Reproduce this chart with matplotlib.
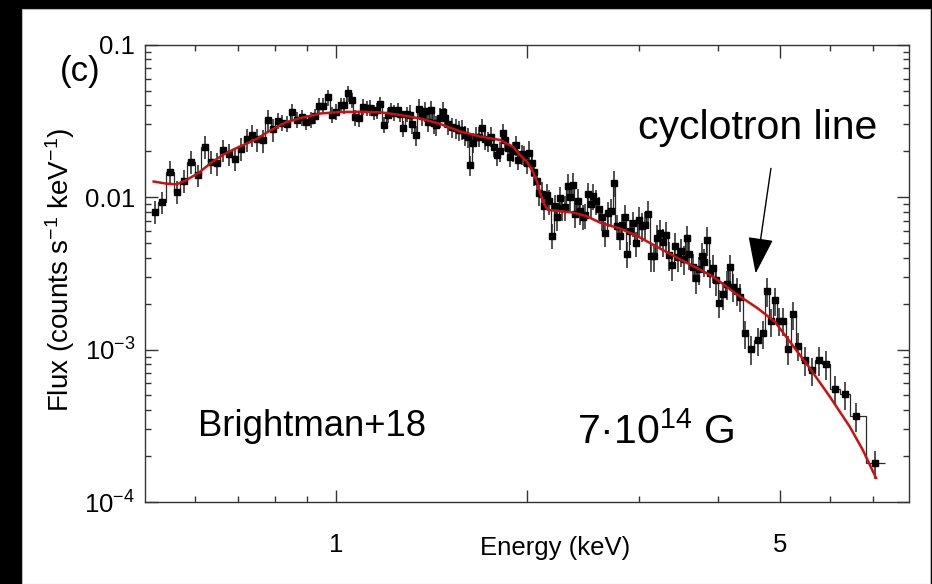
import matplotlib
matplotlib.use('Agg')
import numpy as np
import matplotlib.pyplot as plt
from matplotlib.patches import Rectangle
from matplotlib.ticker import FixedLocator, FixedFormatter, NullFormatter

plt.rcParams['font.family'] = ['Liberation Sans', 'DejaVu Sans']
plt.rcParams['mathtext.default'] = 'regular'

# spectrum bins (keV) and flux (counts s^-1 keV^-1)
energy = [0.518, 0.532, 0.547, 0.562, 0.575, 0.591, 0.606, 0.621, 0.635, 0.650,
          0.663, 0.679, 0.694, 0.708, 0.723, 0.737, 0.751, 0.767, 0.781, 0.796,
          0.809, 0.823, 0.837, 0.853, 0.868, 0.884, 0.898, 0.912, 0.926, 0.940,
          0.954, 0.970, 0.984, 1.000, 1.016, 1.029, 1.043, 1.058, 1.072, 1.088,
          1.101, 1.117, 1.132, 1.148, 1.160, 1.174, 1.188, 1.206, 1.221, 1.235,
          1.250, 1.262, 1.276, 1.292, 1.306, 1.318, 1.334, 1.351, 1.366, 1.380,
          1.395, 1.410, 1.424, 1.439, 1.457, 1.471, 1.486, 1.502, 1.522, 1.542,
          1.559, 1.576, 1.595, 1.612, 1.627, 1.644, 1.662, 1.681, 1.700, 1.717,
          1.736, 1.755, 1.773, 1.792, 1.809, 1.830, 1.844, 1.863, 1.882, 1.901,
          1.918, 1.935, 1.960, 1.978, 1.997, 2.016, 2.034, 2.052, 2.069, 2.088,
          2.107, 2.126, 2.146, 2.165, 2.189, 2.213, 2.231, 2.253, 2.272, 2.294,
          2.315, 2.336, 2.358, 2.379, 2.401, 2.421, 2.444, 2.469, 2.494, 2.521,
          2.542, 2.567, 2.590, 2.621, 2.652, 2.681, 2.710, 2.740, 2.767, 2.795,
          2.821, 2.846, 2.872, 2.903, 2.930, 2.962, 3.000, 3.029, 3.060, 3.100,
          3.133, 3.168, 3.199, 3.231, 3.270, 3.306, 3.348, 3.381, 3.418, 3.456,
          3.496, 3.534, 3.565, 3.600, 3.642, 3.682, 3.722, 3.763, 3.797, 3.842,
          3.884, 3.927, 3.966, 4.009, 4.072, 4.122, 4.172, 4.222, 4.274, 4.334,
          4.405, 4.502, 4.612, 4.707, 4.774, 4.849, 4.916, 4.992, 5.061, 5.148,
          5.247, 5.343, 5.469, 5.609, 5.753, 5.908, 6.104, 6.328, 6.586, 7.063]

flux = [0.00804, 0.00929, 0.01468, 0.01085, 0.01285, 0.01707, 0.01396, 0.02141, 0.01707, 0.01667,
        0.02037, 0.01918, 0.01784, 0.02075, 0.02395, 0.02556, 0.02395, 0.02359, 0.03206, 0.02785,
        0.03182, 0.03087, 0.03041, 0.03645, 0.03230, 0.03339, 0.03110, 0.03230, 0.03405, 0.03962,
        0.03962, 0.04518, 0.03483, 0.03634, 0.04021, 0.04003, 0.04798, 0.04336, 0.03339, 0.03289,
        0.03902, 0.03843, 0.03855, 0.03617, 0.03712, 0.04070, 0.02995, 0.03457, 0.03712, 0.03590,
        0.03728, 0.03510, 0.02827, 0.03510, 0.03483, 0.03032, 0.02556, 0.03803, 0.03431, 0.03673,
        0.03124, 0.03712, 0.03064, 0.02972, 0.03329, 0.03634, 0.03329, 0.03008, 0.02893, 0.02827,
        0.02756, 0.02777, 0.02556, 0.02480, 0.01624, 0.02282, 0.02491, 0.02491, 0.02827, 0.02405,
        0.02309, 0.02491, 0.02141, 0.01889, 0.01998, 0.02622, 0.02370, 0.02090, 0.01841, 0.02007,
        0.02197, 0.01765, 0.01918, 0.01889, 0.01674, 0.01962, 0.01667, 0.01468, 0.01275, 0.01072,
        0.01056, 0.00874, 0.01032, 0.00943, 0.00560, 0.00874, 0.00740, 0.00982, 0.00855, 0.00861,
        0.01192, 0.01006, 0.01201, 0.00775, 0.00950, 0.00810, 0.00746, 0.00763, 0.01045, 0.00901,
        0.01020, 0.00943, 0.00838, 0.00740, 0.00579, 0.00786, 0.00813, 0.01243, 0.00646, 0.00556,
        0.00656, 0.00744, 0.00425, 0.00599, 0.00676, 0.00497, 0.00708, 0.00646, 0.00656, 0.00778,
        0.00409, 0.00408, 0.00539, 0.00586, 0.00510, 0.00564, 0.00417, 0.00358, 0.00481, 0.00406,
        0.00441, 0.00393, 0.00537, 0.00423, 0.00349, 0.00295, 0.00337, 0.00411, 0.00378, 0.00523,
        0.00320, 0.00345, 0.00286, 0.00203, 0.00231, 0.00269, 0.00346, 0.00258, 0.00244, 0.00222,
        0.00128, 0.00101, 0.00115, 0.00128, 0.00242, 0.00153, 0.00211, 0.00155, 0.00155, 0.00101,
        0.00170, 0.00106, 0.000853, 0.00073, 0.000853, 0.000804, 0.000553, 0.00051, 0.000367, 0.000179]

# relative error of the points, per energy band
err_band_edges = [0.5, 0.8, 1.3, 2.0, 3.0, 8.0]
err_band_rel = [0.17, 0.12, 0.15, 0.19, 0.21]

# fitted model (red curve)
model_energy = [0.516, 0.539, 0.561, 0.579, 0.607, 0.636, 0.663, 0.689, 0.720, 0.749,
                0.780, 0.806, 0.832, 0.879, 0.945, 1.016, 1.092, 1.174, 1.262, 1.357,
                1.459, 1.569, 1.687, 1.814, 1.901, 1.949, 1.999, 2.043, 2.073, 2.096,
                2.126, 2.157, 2.253, 2.362, 2.476, 2.604, 2.800, 2.979, 3.122, 3.456,
                3.908, 4.294, 4.617, 4.911, 5.185, 5.575, 5.994, 6.444, 6.755, 7.084]
model_flux = [0.01266, 0.01228, 0.01213, 0.01285, 0.01439, 0.01687, 0.01889, 0.02053, 0.02231, 0.02405,
              0.02674, 0.02884, 0.03087, 0.03304, 0.03538, 0.03617, 0.03634, 0.03601, 0.03457, 0.03280,
              0.03018, 0.02694, 0.02499, 0.02370, 0.02132, 0.01889, 0.01699, 0.01461, 0.01256, 0.01064,
              0.00901, 0.00823, 0.00810, 0.00792, 0.00752, 0.00681, 0.00622, 0.00556, 0.00500, 0.00397,
              0.00304, 0.00228, 0.00186, 0.00152, 0.001125, 0.000753, 0.00049, 0.000311, 0.000219, 0.000144]

xtick_major = [1, 2, 5]
xtick_labels = ['1', '', '5']
xtick_minor = [0.6, 0.7, 0.8, 0.9, 3, 4, 6, 7]
ytick_major = [1e-4, 1e-3, 1e-2, 1e-1]
ytick_labels = ['$10^{-4}$', '$10^{-3}$', '0.01', '0.1']

E = np.array(energy)
F = np.array(flux)
mids = np.sqrt(E[:-1] * E[1:])
edges = np.concatenate([[E[0] ** 2 / mids[0]], mids, [E[-1] ** 2 / mids[-1]]])
rel = np.array(err_band_rel)[np.clip(np.digitize(E, err_band_edges) - 1, 0, len(err_band_rel) - 1)]

fig = plt.figure(figsize=(9.32, 5.84), dpi=100)
fig.patch.set_facecolor('black')
fig.add_artist(Rectangle((22 / 932, 0), (930 - 22) / 932, (584 - 9) / 584,
                         transform=fig.transFigure, facecolor='white', edgecolor='#bbbbbb',
                         lw=0.8, zorder=-5))

ax = fig.add_axes([145 / 932, 1 - 502 / 584, 764.5 / 932, 457.3 / 584])
ax.set_facecolor('white')

ax.stairs(F, edges, baseline=None, color='#2a2a2a', lw=0.9, zorder=2)
ax.errorbar(E, F, yerr=F * rel, fmt='s', ms=4.2, color='black', ecolor='#222222',
            elinewidth=1.1, capsize=0, zorder=3)
ax.plot(model_energy, model_flux, color='#cc1010', lw=1.8, zorder=4)

ax.set_xscale('log')
ax.set_yscale('log')
ax.set_xlim(0.5, 8)
ax.set_ylim(1e-4, 0.1)

ax.xaxis.set_major_locator(FixedLocator(xtick_major))
ax.xaxis.set_major_formatter(FixedFormatter(xtick_labels))
ax.xaxis.set_minor_locator(FixedLocator(xtick_minor))
ax.xaxis.set_minor_formatter(NullFormatter())
ax.yaxis.set_major_locator(FixedLocator(ytick_major))
ax.yaxis.set_major_formatter(FixedFormatter(ytick_labels))
ax.yaxis.set_minor_locator(FixedLocator([k * 10.0 ** d for d in (-4, -3, -2) for k in range(2, 10)]))
ax.yaxis.set_minor_formatter(NullFormatter())

ax.tick_params(which='both', direction='in', top=True, right=True, color='#333333', width=1)
ax.tick_params(which='major', length=9, labelsize=18.5)
ax.tick_params(which='minor', length=4.5)
ax.tick_params(axis='x', which='major', pad=22)
ax.tick_params(axis='y', which='major', pad=7)
for s in ax.spines.values():
    s.set_color('#333333')
    s.set_linewidth(1)

ax.set_xlabel('Energy (keV)', fontsize=18.5, va='baseline')
ax.xaxis.set_label_coords(0.536, -0.116)
ax.set_ylabel('Flux (counts s$^{-1}$ keV$^{-1}$)', fontsize=20, va='baseline')
ax.yaxis.set_label_coords(-0.1, 0.508)

# annotations
ax.annotate('', xy=(4.579, 0.00316), xytext=(4.84, 0.01545),
            arrowprops=dict(arrowstyle='-|>,head_length=1.15,head_width=0.4', mutation_scale=20,
                            color='black', lw=1, shrinkA=0, shrinkB=0))
ax.text(0.802, 0.794, 'cyclotron line', transform=ax.transAxes, ha='center', va='baseline', fontsize=29.5)
ax.text(0.219, 0.1443, 'Brightman+18', transform=ax.transAxes, ha='center', va='baseline', fontsize=26.3)
ax.text(0.5647, 0.1284, '7·$10^{14}$ G', transform=ax.transAxes, ha='left', va='baseline', fontsize=29.5)
fig.text(60 / 932, 1 - 81 / 584, '(c)', fontsize=25, ha='left', va='baseline')

plt.savefig('out.png', dpi=100, facecolor=fig.get_facecolor())
